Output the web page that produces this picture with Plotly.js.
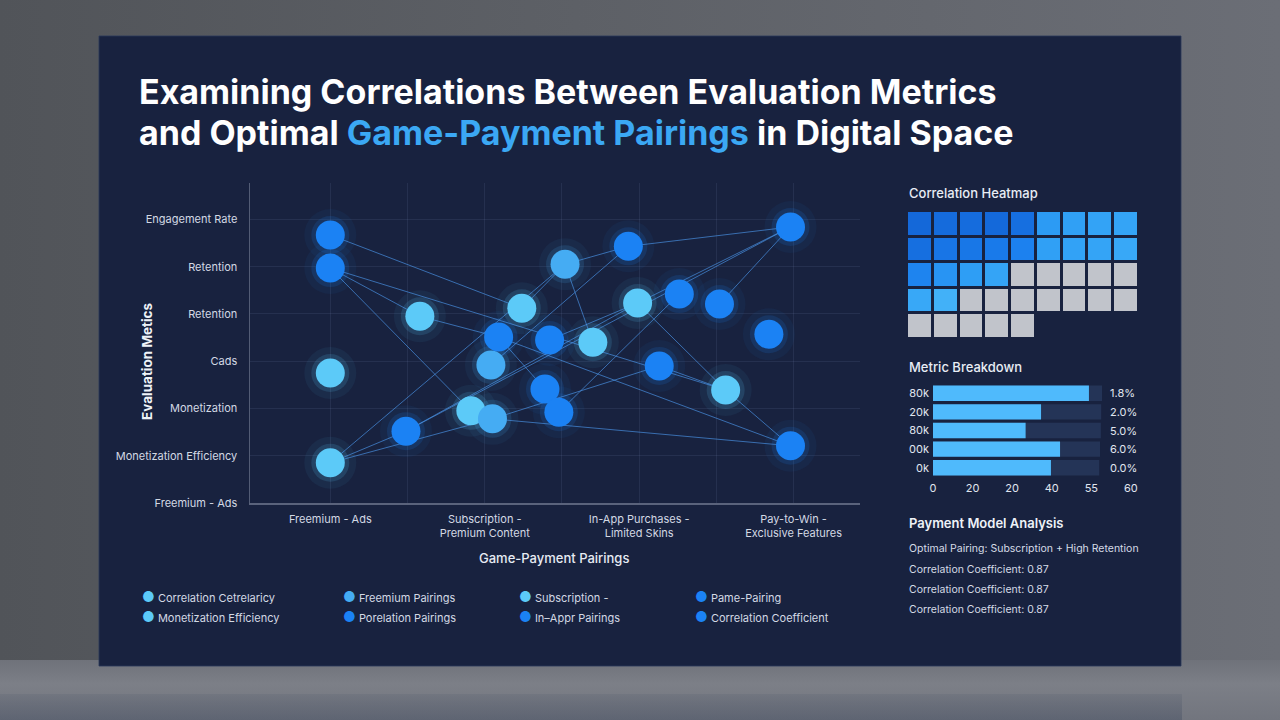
<!DOCTYPE html>
<html><head><meta charset="utf-8">
<script src="https://cdn.plot.ly/plotly-3.0.1.min.js"></script>
<style>
html,body{margin:0;padding:0;width:1280px;height:720px;overflow:hidden;}
body{background:linear-gradient(90deg,#515459 0%,#5d6066 45%,#6b6e76 100%);position:relative;}
#floor{position:absolute;left:0;top:660px;width:1280px;height:60px;background:linear-gradient(180deg,#6f727a 0%,#7c7f87 40%,#72757e 100%);}
#refl{position:absolute;left:0;top:694px;width:1182px;height:26px;background:linear-gradient(180deg,rgba(70,80,100,0.15),rgba(70,80,100,0.45));}
#chart{position:absolute;left:0;top:0;width:1280px;height:720px;}
</style></head><body><div id="floor"></div><div id="refl"></div><div id="chart"></div>
<script>
// ---------- data ----------
const pairings = ['Freemium - Ads','Subscription -<br>Premium Content','In-App Purchases -<br>Limited Skins','Pay-to-Win -<br>Exclusive Features'];
const metricLabels = ['Freemium - Ads','Monetization Efficiency','Monetization','Cads','Retention','Retention','Engagement Rate'];
const pointX = [0,0,0.58,0,0,0.49,0.91,1.05,1.04,1.09,1.24,1.52,1.42,1.39,1.48,1.70,1.93,1.99,2.13,2.26,2.52,2.56,2.84,2.98,2.98];
const pointY = [5.67,4.97,3.95,2.75,0.85,1.52,1.95,1.78,2.92,3.51,4.12,5.05,3.45,2.41,1.92,3.40,5.43,4.23,2.90,4.42,4.21,2.39,3.57,5.84,1.21];
const pointTone = ['dark','dark','light','light','light','dark','light','mid','mid','dark','light','mid','dark','dark','dark','light','dark','light','dark','dark','dark','light','dark','dark','dark'];
const edgeFrom = [0,1,1,1,2,9,9,4,4,4,5,5,10,11,16,11,8,14,7,7,17,21,20,17,12,18];
const edgeTo   = [10,2,21,6,9,13,24,5,7,11,17,23,11,16,23,15,16,19,18,24,21,24,23,23,17,21];
const heatZ = [
  [0.95,0.93,0.92,0.94,0.90,0.62,0.58,0.56,0.55],
  [0.90,0.86,0.85,0.83,0.78,0.58,0.57,0.55,0.52],
  [0.76,0.66,0.60,0.55,0.10,0.10,0.10,0.10,0.10],
  [0.52,0.42,0.10,0.10,0.10,0.10,0.10,0.10,0.10],
  [0.10,0.10,0.10,0.10,0.10,null,null,null,null]
];
const breakdownLabels = ['80k','20k','80k','00k','0k'];
const breakdownValues = [39.4,27.3,23.4,32.1,29.8];
const breakdownTrack = [42.7,42.5,42.4,42.2,42.0];
const breakdownPct = ['1.8%','2.0%','5.0%','6.0%','0.0%'];
const breakdownTickVals = [0,10,20,30,40,50];
const breakdownTickText = ['0','20','20','40','55','60'];
const legendLabels = ['Correlation Cetrelaricy','Freemium Pairings','Subscription -','Pame-Pairing','Monetization Efficiency','Porelation Pairings','In\u2013Appr Pairings','Correlation Coefficient'];
const legendTones = ['light','mid','light','dark','light','dark','dark','dark'];
const analysisLines = ['Optimal Pairing: Subscription + High Retention','Correlation Coefficient: 0.87','Correlation Coefficient: 0.87','Correlation Coefficient: 0.87'];
const titleLines = ['Examining Correlations Between Evaluation Metrics','and Optimal <span style="color:#3ba8f4">Game-Payment Pairings</span> in Digital Space'];

// ---------- styling ----------
const FONT = 'Inter, "Noto Sans", "DejaVu Sans", sans-serif';
const toneColor = {dark:'#1b82f4', light:'#5ccaf8', mid:'#45acf3'};
const toneGlow = {dark:'rgba(27,130,244,', light:'rgba(92,202,248,', mid:'rgba(69,172,243,'};
const W = 1280, H = 720;
const px = v => v / W, py = v => 1 - v / H;

// edges built from point arrays
const lx = [], ly = [];
edgeFrom.forEach((f, i) => { const t = edgeTo[i]; lx.push(pointX[f], pointX[t], null); ly.push(pointY[f], pointY[t], null); });

const traces = [
  {type:'scatter', mode:'markers', x:pointX, y:pointY, xaxis:'x', yaxis:'y', hoverinfo:'skip', showlegend:false,
   marker:{size:52, color:pointTone.map(t => toneGlow[t] + '0.06)'), line:{width:0}}},
  {type:'scatter', mode:'markers', x:pointX, y:pointY, xaxis:'x', yaxis:'y', hoverinfo:'skip', showlegend:false,
   marker:{size:38, color:pointTone.map(t => toneGlow[t] + '0.15)'), line:{width:0}}},
  {type:'scatter', mode:'lines', x:lx, y:ly, xaxis:'x', yaxis:'y', hoverinfo:'skip', showlegend:false,
   line:{color:'rgba(75,150,235,0.65)', width:1}},
  {type:'scatter', mode:'markers', x:pointX, y:pointY, xaxis:'x', yaxis:'y', showlegend:false,
   marker:{size:29, color:pointTone.map(t => toneColor[t]), line:{width:0}}},
  {type:'heatmap', z:heatZ, xaxis:'x2', yaxis:'y2', xgap:3, ygap:3, showscale:false, hoverinfo:'skip', zmin:0, zmax:1,
   colorscale:[[0,'#c1c4cb'],[0.2,'#c1c4cb'],[0.21,'#50bbfb'],[0.45,'#40b0f8'],[0.6,'#2e9ef5'],[0.8,'#1a7eee'],[1,'#1260d2']]},
  {type:'bar', orientation:'h', x:breakdownTrack, y:[0,1,2,3,4], xaxis:'x3', yaxis:'y3', showlegend:false, hoverinfo:'skip',
   marker:{color:'#243457', line:{width:0}}},
  {type:'bar', orientation:'h', x:breakdownValues, y:[0,1,2,3,4], xaxis:'x3', yaxis:'y3', showlegend:false,
   marker:{color:'#4fbafc', line:{width:0}}}
];

const tickFont = {family:FONT, size:11, color:'#d3d9e4'};
const gridC = 'rgba(130,150,190,0.13)';
const xMain = [0,0.5,1,1.5,2,2.5,3];
const xMainText = xMain.map(v => Number.isInteger(v) ? pairings[v] : '');

const annotations = [
  {text:titleLines[0], xref:'paper', yref:'paper', x:px(137), y:py(91), xanchor:'left', yanchor:'middle', align:'left', showarrow:false,
   font:{family:FONT, size:34, color:'#ffffff', weight:700}},
  {text:titleLines[1], xref:'paper', yref:'paper', x:px(137), y:py(132), xanchor:'left', yanchor:'middle', align:'left', showarrow:false,
   font:{family:FONT, size:34, color:'#ffffff', weight:700}},
  {text:'Evaluation Metics', xref:'paper', yref:'paper', x:px(147), y:py(361), textangle:-90, showarrow:false,
   xanchor:'center', yanchor:'middle', font:{family:FONT, size:13.5, color:'#eef2f8', weight:700}},
  {text:'Game-Payment Pairings', xref:'paper', yref:'paper', x:px(554), y:py(558), showarrow:false,
   xanchor:'center', yanchor:'middle', font:{family:FONT, size:13, color:'#e6ebf3', weight:500}},
  {text:'Correlation Heatmap', xref:'paper', yref:'paper', x:px(907), y:py(193), showarrow:false,
   xanchor:'left', yanchor:'middle', font:{family:FONT, size:13, color:'#e8edf5', weight:500}},
  {text:'Metric Breakdown', xref:'paper', yref:'paper', x:px(907), y:py(367), showarrow:false,
   xanchor:'left', yanchor:'middle', font:{family:FONT, size:13, color:'#e8edf5', weight:500}},
  {text:'Payment Model Analysis', xref:'paper', yref:'paper', x:px(907), y:py(523), showarrow:false,
   xanchor:'left', yanchor:'middle', font:{family:FONT, size:13, color:'#eef2f8', weight:600}}
];
const analysisY = [548, 569, 589, 609];
analysisLines.forEach((t, i) => annotations.push({text:t, xref:'paper', yref:'paper', x:px(907), y:py(analysisY[i]),
  showarrow:false, xanchor:'left', yanchor:'middle', font:{family:FONT, size:10.5, color:'#d5dbe6'}}));
breakdownPct.forEach((t, i) => annotations.push({text:t, xref:'x3', yref:'y3', x:44.2, y:i, showarrow:false,
  xanchor:'left', yanchor:'middle', font:{family:FONT, size:11, color:'#e0e6ef'}}));
const legColX = [140, 341, 517, 693], legRowY = [596, 616];
legendLabels.forEach((t, i) => annotations.push({
  text:'<span style="color:' + toneColor[legendTones[i]] + ';font-size:14px">\u25CF</span> ' + t,
  xref:'paper', yref:'paper', x:px(legColX[i % 4]), y:py(legRowY[Math.floor(i / 4)]), showarrow:false,
  xanchor:'left', yanchor:'middle', font:{family:FONT, size:11, color:'#d3d9e4'}}));

const layout = {
  width:W, height:H, margin:{l:0, r:0, t:0, b:0},
  paper_bgcolor:'rgba(0,0,0,0)', plot_bgcolor:'rgba(0,0,0,0)',
  font:{family:FONT, color:'#d3d9e4'}, showlegend:false, barmode:'overlay', bargap:0.17,
  shapes:[{type:'rect', xref:'paper', yref:'paper', x0:px(99), x1:px(1181), y0:py(666), y1:py(36),
           fillcolor:'#18223f', line:{color:'rgba(40,55,90,0.8)', width:1}, layer:'below'}],
  xaxis:{domain:[px(250), px(860)], anchor:'y', range:[-0.52, 3.43], tickmode:'array', tickvals:xMain, ticktext:xMainText,
         showgrid:true, gridcolor:gridC, zeroline:false, showline:true, linecolor:'rgba(170,180,200,0.45)', linewidth:1.5,
         ticks:'', ticklabelstandoff:5, tickfont:tickFont, fixedrange:true},
  yaxis:{domain:[py(503), py(183)], anchor:'x', range:[0, 6.77], tickmode:'array', tickvals:[0,1,2,3,4,5,6], ticktext:metricLabels,
         showgrid:true, gridcolor:gridC, zeroline:false, showline:true, linecolor:'rgba(170,180,200,0.4)', linewidth:1.5,
         ticks:'', ticklabelstandoff:9, tickfont:tickFont, fixedrange:true},
  xaxis2:{domain:[px(907), px(1139)], anchor:'y2', range:[-0.5, 8.5], visible:false, fixedrange:true},
  yaxis2:{domain:[py(339), py(211)], anchor:'x2', range:[4.5, -0.5], visible:false, fixedrange:true},
  xaxis3:{domain:[px(933), px(1140)], anchor:'y3', range:[0, 52.3], tickmode:'array', tickvals:breakdownTickVals, ticktext:breakdownTickText,
          showgrid:false, zeroline:false, showline:false, ticks:'', ticklabelstandoff:3, tickfont:{family:FONT, size:11, color:'#e0e6ef'}, fixedrange:true},
  yaxis3:{domain:[py(477), py(384)], anchor:'x3', range:[4.5, -0.5], tickmode:'array', tickvals:[0,1,2,3,4], ticktext:breakdownLabels,
          showgrid:false, zeroline:false, showline:false, ticks:'', ticklabelstandoff:3, tickfont:{family:FONT, size:11, color:'#e0e6ef'}, fixedrange:true},
  annotations:annotations
};
Plotly.newPlot('chart', traces, layout, {displayModeBar:false, staticPlot:true});
</script></body></html>
